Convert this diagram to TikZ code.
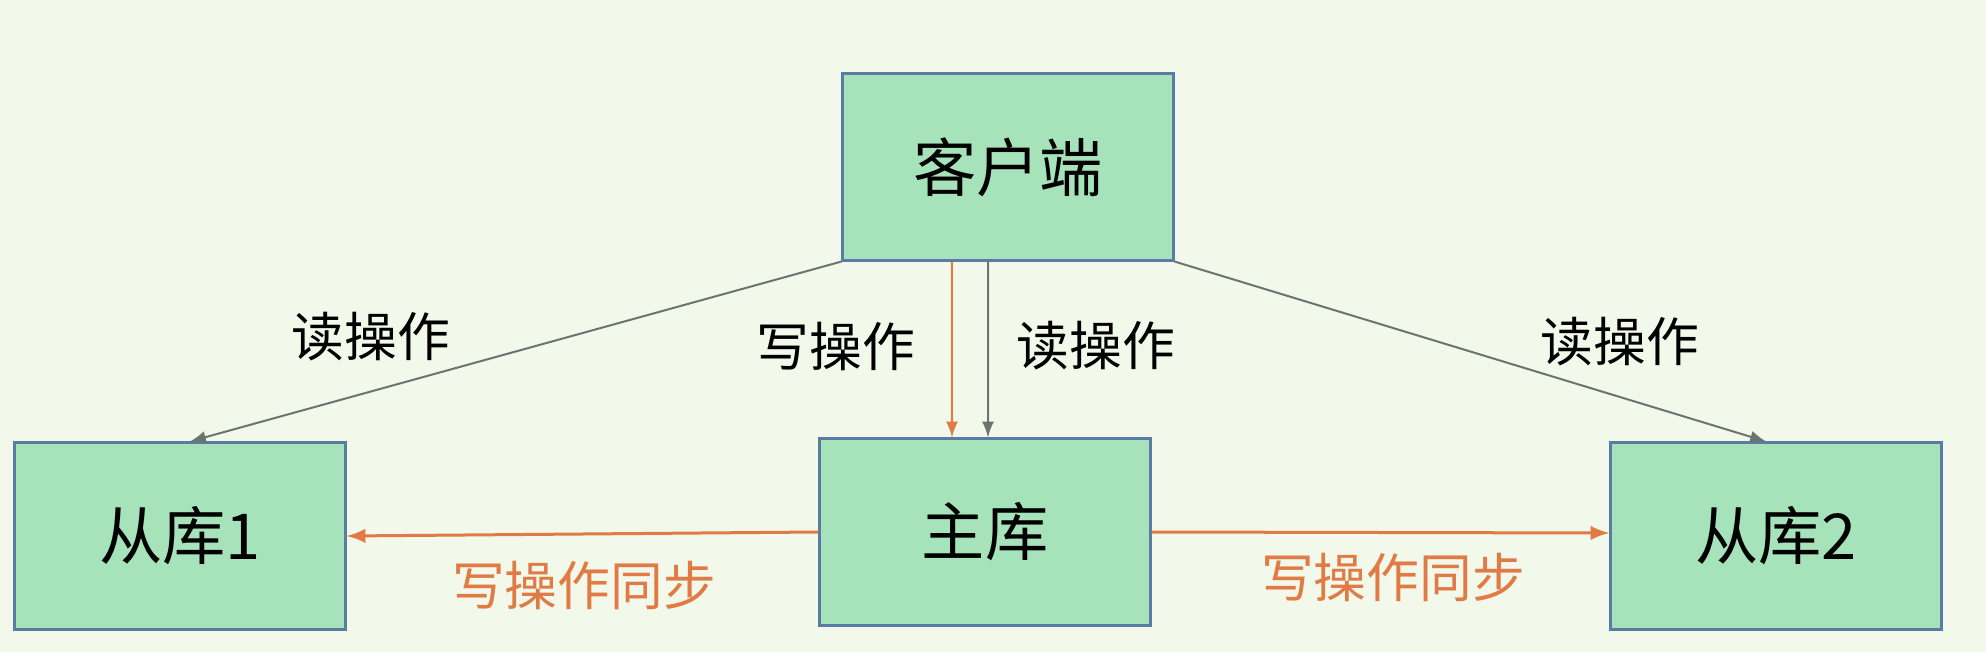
\documentclass[tikz,border=0pt]{standalone}
\usepackage{fontspec}
\setmainfont{Noto Sans CJK SC}
\definecolor{bgcream}{HTML}{F3F9EA}
\definecolor{boxfill}{HTML}{A6E3BB}
\definecolor{boxline}{HTML}{5A7BA3}
\definecolor{syncorange}{HTML}{E07B45}
\definecolor{readgray}{HTML}{6B7570}
\tikzset{
  dbbox/.style={draw=boxline, line width=0.03cm, fill=boxfill, minimum width=3.3cm, minimum height=1.86cm, inner sep=0pt, font=\fontsize{18}{18}\selectfont},
  oplabel/.style={font=\fontsize{15}{15}\selectfont},
  readarrow/.style={-latex, readgray, line width=0.02cm},
  writearrow/.style={-latex, syncorange, line width=0.02cm},
  syncarrow/.style={-latex, syncorange, line width=0.03cm}
}
\begin{document}
\begin{tikzpicture}[x=0.01cm, y=-0.01cm]

\fill[bgcream] (0,0) rectangle (1986,652);
\useasboundingbox (0,0) rectangle (1986,652);

\node[dbbox] (client) at (1008,167) {客户端};

\node[dbbox] (master) at (985,532) {主库};

\node[dbbox] (slave1) at (180,536) {从库1};

\node[dbbox] (slave2) at (1776,536) {从库2};

\draw[readarrow] (client.south west) -- ([xshift=0.1cm]slave1.north);
\draw[readarrow] (client.south east) -- ([xshift=-0.1cm]slave2.north);
\draw[writearrow] ([xshift=-0.56cm]client.south) -- ([xshift=-0.33cm]master.north);
\draw[readarrow] ([xshift=-0.2cm]client.south) -- ([xshift=0.03cm]master.north);

\draw[syncarrow] (master.west) -- (slave1.east);
\draw[syncarrow] (master.east) -- ([yshift=0.03cm]slave2.west);

\node[oplabel] (read1) at (371,337) {读操作};
\node[oplabel] (write0) at (836,346) {写操作};
\node[oplabel] (read0) at (1096,346) {读操作};
\node[oplabel] (read2) at (1620,342) {读操作};

\node[oplabel, text=syncorange] (sync1) at (584,586) {写操作同步};
\node[oplabel, text=syncorange] (sync2) at (1393,578) {写操作同步};

\end{tikzpicture}
\end{document}
